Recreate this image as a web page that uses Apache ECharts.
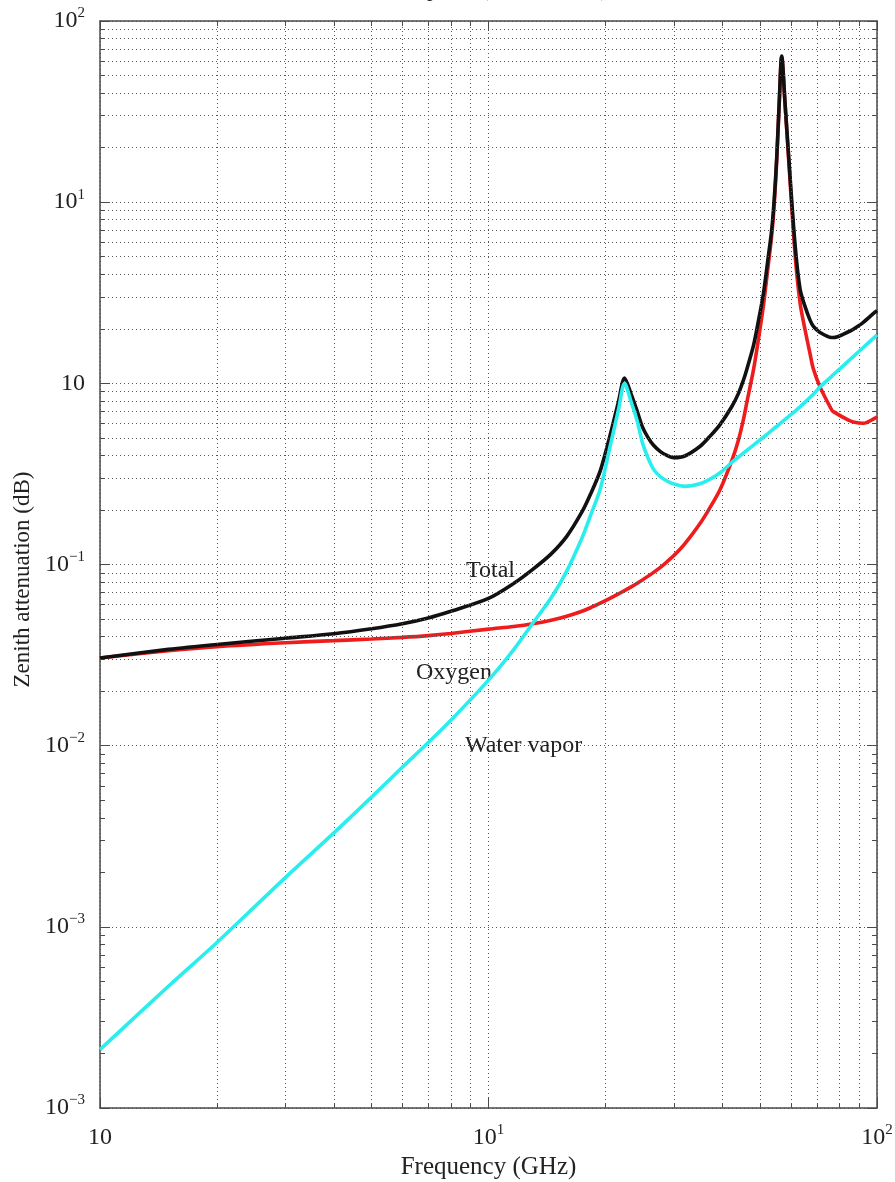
<!DOCTYPE html>
<html><head><meta charset="utf-8">
<script src="https://cdn.jsdelivr.net/npm/echarts@6.0.0/dist/echarts.min.js"></script>
<style>html,body{margin:0;padding:0;background:#fff}#chart{width:895px;height:1182px}</style>
</head><body><div id="chart"></div>
<script>
// Frequency grid (GHz)
const freqGHz = [1, 1.5, 2, 3, 4, 5, 6, 7, 8, 10, 11.6, 13, 14.5, 15.9, 17.4, 18.3, 19.4, 20.6, 21.6, 22.4,
  23.3, 24.1, 24.9, 25.7, 26.6, 27.7, 28.8, 30, 32, 35, 37, 39.4, 42.3, 44, 45.3, 46.2, 48.1, 49.5, 51, 52.5, 53.6, 54.4,
  55.2, 56, 56.85, 58, 59.1, 61.5, 63.4, 65.3, 67.2, 68.6, 71.3, 76.4, 77.2, 84.2, 86.9, 92.2, 98.8, 100];
// Oxygen zenith attenuation (dB)
const oxygenDB = [0.0305, 0.0334, 0.0352, 0.0370, 0.0380, 0.0388, 0.0396, 0.0405, 0.0416, 0.0440, 0.0455, 0.0471, 0.0493, 0.0518, 0.0552, 0.0577, 0.0612, 0.0652, 0.0688, 0.0718,
  0.0752, 0.0786, 0.0822, 0.0860, 0.0905, 0.0965, 0.1035, 0.112, 0.130, 0.168, 0.203, 0.258, 0.375, 0.487, 0.63, 0.779, 1.19, 1.74, 2.68, 4.5, 6.6, 9.8,
  17.1, 34.4, 63.3, 34.4, 18.6, 5.22, 2.77, 1.97, 1.466, 1.2, 0.959, 0.715, 0.698, 0.628, 0.612, 0.602, 0.642, 0.653];
// Water vapor zenith attenuation (dB)
const waterVaporDB = [2.1e-4, 4.7e-4, 8.2e-4, 1.87e-3, 3.3e-3, 5.2e-3, 7.6e-3, 1.04e-2, 1.38e-2, 0.023, 0.0338, 0.0474, 0.0655, 0.092, 0.140, 0.186, 0.262, 0.457, 0.713, 1.0,
  0.788, 0.628, 0.47, 0.39, 0.335, 0.305, 0.289, 0.278, 0.27, 0.279, 0.294, 0.32, 0.366, 0.392, 0.412, 0.426, 0.456, 0.479, 0.504, 0.53, 0.55, 0.565,
  0.579, 0.594, 0.61, 0.632, 0.653, 0.70, 0.743, 0.788, 0.835, 0.87, 0.955, 1.093, 1.116, 1.321, 1.405, 1.577, 1.805, 1.848];
// Total zenith attenuation (dB)
const totalDB = [0.0305, 0.034, 0.0362, 0.0392, 0.0415, 0.0442, 0.0471, 0.0507, 0.0552, 0.065, 0.0785, 0.094, 0.1145, 0.143, 0.195, 0.244, 0.33, 0.525, 0.79, 1.07,
  0.87, 0.71, 0.575, 0.505, 0.455, 0.42, 0.40, 0.389, 0.397, 0.448, 0.505, 0.59, 0.745, 0.88, 1.04, 1.19, 1.62, 2.2, 3.12, 5.0, 7.1, 10.5,
  17.7, 35, 64, 35, 19.3, 5.9, 3.3, 2.65, 2.24, 2.06, 1.91, 1.79, 1.79, 1.92, 1.99, 2.17, 2.47, 2.52];

// Tick labels (as printed in the figure)
const xTickExp = [0, 1, 2];
const xTickBase = ['10', '10', '10'];
const xTickSup = ['', '1', '2'];
const yTickExp = [-4, -3, -2, -1, 0, 1, 2];
const yTickBase = ['10', '10', '10', '10', '10', '10', '10'];
const yTickSup = ['\u22123', '\u22123', '\u22122', '\u22121', '', '1', '2'];

const seriesNames = ['Oxygen', 'Water vapor', 'Total'];
const titleText = 'Atmosphere (US Standard)';

// minor grid positions (2..9 within each decade)
const xMinor = [], yMinor = [];
for (const d of [1, 10]) for (let k = 2; k <= 9; k++) xMinor.push(k * d);
for (const d of [1e-4, 1e-3, 1e-2, 1e-1, 1, 10]) for (let k = 2; k <= 9; k++) yMinor.push(+(k * d).toPrecision(3));

const FONT = '"Liberation Serif", "Times New Roman", serif';
const TXT = '#222';
const AX = '#4a4a4a';
const GRID = { type: [1, 3], color: '#555', width: 1 };
const GRIDBOX = { left: 100, right: 18, top: 21, bottom: 74, containLabel: false, outerBoundsMode: 'none' };

function tickFmt(exps, bases, sups) {
  return function (v) {
    const e = Math.round(Math.log10(v));
    const i = exps.indexOf(e);
    if (i < 0) return '';
    return sups[i] ? '{b|' + bases[i] + '}{s|' + sups[i] + '}' : '{b|' + bases[i] + '}';
  };
}
const rich = {
  b: { fontFamily: FONT, fontSize: 24, color: TXT, lineHeight: 30 },
  s: { fontFamily: FONT, fontSize: 15, color: TXT, lineHeight: 12, verticalAlign: 'top' }
};

const chart = echarts.init(document.getElementById('chart'), null, { renderer: 'canvas' });
const pairs = arr => freqGHz.map((f, i) => [f, arr[i]]);
const annot = (text, coord) => ({
  symbol: 'rect', symbolSize: 1, itemStyle: { color: 'rgba(0,0,0,0)' }, silent: true,
  label: { show: true, position: 'inside', formatter: text, fontFamily: FONT, fontSize: 24, color: TXT },
  data: [{ coord: coord }]
});

function xAx(gridIndex, position, opts) {
  return Object.assign({
    type: 'log', logBase: 10, min: 1, max: 100, gridIndex: gridIndex, position: position,
    axisLine: { show: true, lineStyle: { color: AX, width: 1.5 } },
    axisTick: { show: true, inside: true, length: 10, lineStyle: { color: AX, width: 1 } },
    axisLabel: { show: false }, splitLine: { show: false }
  }, opts || {});
}
function yAx(gridIndex, position, opts) {
  return Object.assign({
    type: 'log', logBase: 10, min: 1e-4, max: 100, gridIndex: gridIndex, position: position,
    axisLine: { show: true, lineStyle: { color: AX, width: 1.5 } },
    axisTick: { show: true, inside: true, length: 10, lineStyle: { color: AX, width: 1 } },
    axisLabel: { show: false }, splitLine: { show: false }
  }, opts || {});
}
const minorTickX = { show: true, inside: true, length: 5, customValues: xMinor, lineStyle: { color: AX, width: 1 } };
const minorTickY = { show: true, inside: true, length: 5, customValues: yMinor, lineStyle: { color: AX, width: 1 } };

const option = {
  animation: false,
  backgroundColor: '#fff',
  grid: [GRIDBOX, Object.assign({}, GRIDBOX)],
  graphic: [{
    type: 'text', x: 488, y: 1,
    style: { text: titleText, font: '22px ' + FONT, fill: TXT, align: 'center', verticalAlign: 'bottom' }
  }],
  xAxis: [
    xAx(0, 'bottom', {
      axisLabel: { margin: 15, formatter: tickFmt(xTickExp, xTickBase, xTickSup), rich: rich },
      splitLine: { show: true, lineStyle: GRID },
      name: 'Frequency (GHz)', nameLocation: 'middle', nameGap: 35,
      nameTextStyle: { fontFamily: FONT, fontSize: 25, color: TXT }
    }),
    xAx(0, 'top'),
    xAx(1, 'bottom', { axisLine: { show: false }, axisTick: minorTickX }),
    xAx(1, 'top', { axisLine: { show: false }, axisTick: minorTickX })
  ],
  yAxis: [
    yAx(0, 'left', {
      axisLabel: { margin: 15, formatter: tickFmt(yTickExp, yTickBase, yTickSup), rich: rich },
      splitLine: { show: true, lineStyle: GRID },
      name: 'Zenith attenuation (dB)', nameLocation: 'middle', nameGap: 66,
      nameTextStyle: { fontFamily: FONT, fontSize: 23, color: TXT, padding: [0, 30, 0, 0] }
    }),
    yAx(0, 'right'),
    yAx(1, 'left', { axisLine: { show: false }, axisTick: minorTickY }),
    yAx(1, 'right', { axisLine: { show: false }, axisTick: minorTickY })
  ],
  series: [
    {
      name: 'grid', type: 'line', data: [], z: 1, silent: true, xAxisIndex: 0, yAxisIndex: 0,
      markLine: {
        silent: true, symbol: ['none', 'none'], label: { show: false },
        lineStyle: GRID, emphasis: { disabled: true },
        data: xMinor.map(v => ({ xAxis: v })).concat(yMinor.map(v => ({ yAxis: v })))
      }
    },
    {
      name: 'minorTicks', type: 'line', data: [], xAxisIndex: 2, yAxisIndex: 2, silent: true
    },
    {
      name: seriesNames[0], type: 'line', data: pairs(oxygenDB), symbol: 'none', z: 3, smooth: 0.3,
      lineStyle: { color: '#ee1c1c', width: 3.6 },
      markPoint: annot(seriesNames[0], [8.15, 0.0252])
    },
    {
      name: seriesNames[2], type: 'line', data: pairs(totalDB), symbol: 'none', z: 4, smooth: 0.3,
      lineStyle: { color: '#111111', width: 3.6 },
      markPoint: annot(seriesNames[2], [10.12, 0.092])
    },
    {
      name: seriesNames[1], type: 'line', data: pairs(waterVaporDB), symbol: 'none', z: 5, smooth: 0.3,
      lineStyle: { color: '#2aeeee', width: 3.6 },
      markPoint: annot(seriesNames[1], [12.31, 0.00995])
    }
  ]
};
chart.setOption(option);
</script>
</body></html>
